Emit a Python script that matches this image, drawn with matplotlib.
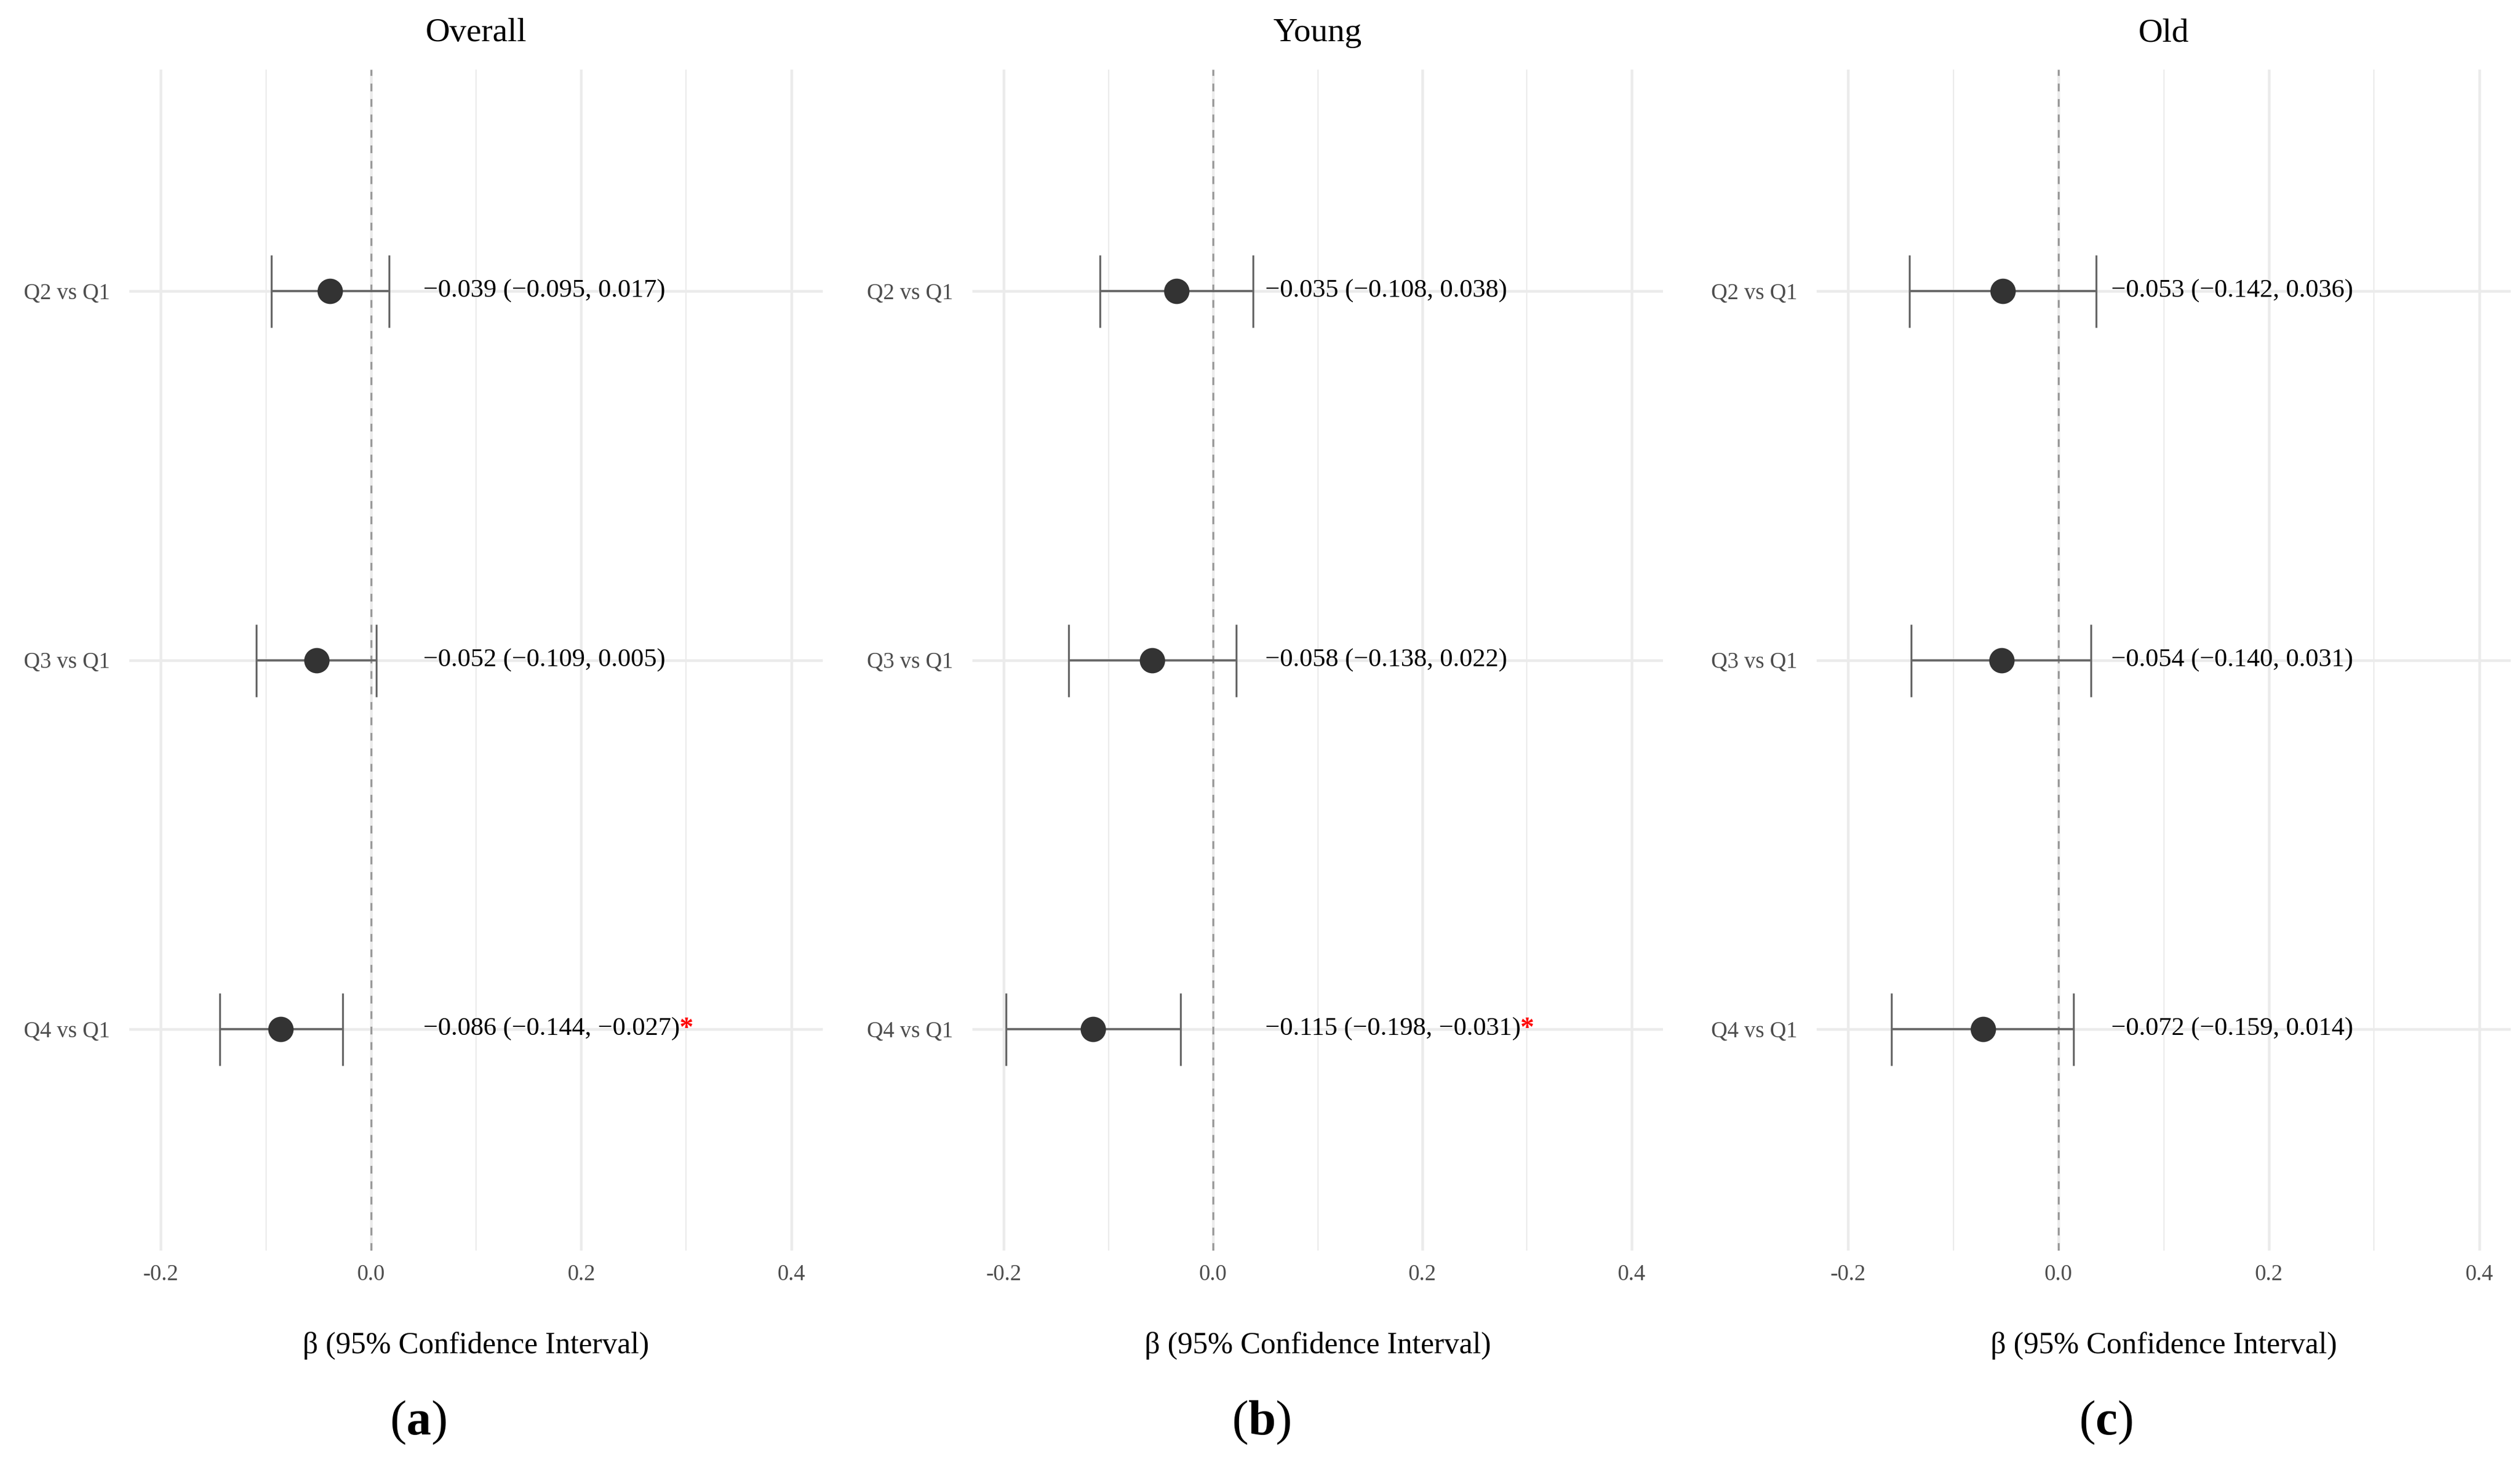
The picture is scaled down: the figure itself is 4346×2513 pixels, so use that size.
import matplotlib
matplotlib.use("Agg")
import matplotlib.pyplot as plt
import numpy as np

plt.rcParams['font.family'] = ['Liberation Serif', 'DejaVu Serif']
plt.rcParams['mathtext.fontset'] = 'custom'
plt.rcParams['mathtext.rm'] = 'Liberation Serif'
plt.rcParams['mathtext.bf'] = 'Liberation Serif:bold'

panel_titles = ["Overall", "Young", "Old"]
panel_letters = ["a", "b", "c"]
categories = ["Q2 vs Q1", "Q3 vs Q1", "Q4 vs Q1"]

overall_beta = [-0.039, -0.052, -0.086]
overall_low = [-0.095, -0.109, -0.144]
overall_high = [0.017, 0.005, -0.027]
overall_sig = [False, False, True]

young_beta = [-0.035, -0.058, -0.115]
young_low = [-0.108, -0.138, -0.198]
young_high = [0.038, 0.022, -0.031]
young_sig = [False, False, True]

old_beta = [-0.053, -0.054, -0.072]
old_low = [-0.142, -0.140, -0.159]
old_high = [0.036, 0.031, 0.014]
old_sig = [False, False, False]

x_ticks = [-0.2, 0.0, 0.2, 0.4]
x_ticklabels = ["-0.2", "0.0", "0.2", "0.4"]
x_minor = [-0.1, 0.1, 0.3]

panels = [
    (overall_beta, overall_low, overall_high, overall_sig),
    (young_beta, young_low, young_high, young_sig),
    (old_beta, old_low, old_high, old_sig),
]

W, H = 4346, 2513
dpi = 300
fig = plt.figure(figsize=(W / dpi, H / dpi), dpi=dpi)

lefts = [223, 1677, 3133]
rights = [1419, 2868, 4330]
top_px, bot_px = 120, 2157

def fmt(v):
    return f"{v:.3f}".replace("-", "\u2212")

for i, (beta, low, high, sig) in enumerate(panels):
    axw = rights[i] - lefts[i]
    axh = bot_px - top_px
    ax = fig.add_axes([lefts[i] / W, 1 - bot_px / H, axw / W, axh / H])
    ypos = np.array([3, 2, 1])
    ax.set_xlim(-0.23, 0.43)
    ax.set_ylim(0.4, 3.6)
    for s in ax.spines.values():
        s.set_visible(False)
    for xv in x_ticks:
        ax.axvline(xv, color="#EBEBEB", lw=1.1, zorder=0)
    for xv in x_minor:
        ax.axvline(xv, color="#EBEBEB", lw=0.55, zorder=0)
    for yv in ypos:
        ax.axhline(yv, color="#EBEBEB", lw=1.1, zorder=0)
    ax.axvline(0, color="#999999", lw=0.8, ls=(0, (4, 4)), zorder=1)

    b = np.array(beta)
    lo = np.array(low)
    hi = np.array(high)
    ax.errorbar(b, ypos, xerr=[b - lo, hi - b], fmt="none", ecolor="#666666",
                elinewidth=0.9, capsize=15, capthick=0.8, zorder=2)
    ax.plot(b, ypos, "o", color="#333333", markersize=10.5, zorder=3, markeredgewidth=0)

    for j in range(3):
        txt = f"{fmt(beta[j])} ({fmt(low[j])}, {fmt(high[j])})"
        ax.text(0.05, ypos[j], txt, ha="left", va="center", fontsize=10.75, color="black", zorder=4)
        if sig[j]:
            ax.text(0.3, ypos[j], "*", ha="center", va="center", fontsize=11.5,
                    fontweight="bold", color="red", zorder=4)

    ax.set_xticks(x_ticks)
    ax.set_xticklabels(x_ticklabels)
    ax.set_yticks(ypos)
    ax.set_yticklabels(categories)
    ax.tick_params(axis="both", length=0, colors="#4D4D4D", labelsize=9.3)
    ax.tick_params(axis="x", pad=5.5)
    ax.tick_params(axis="y", pad=8)

    ax.text(0.5, 1 + (top_px - 71) / axh, panel_titles[i], transform=ax.transAxes,
            ha="center", va="baseline", fontsize=14, color="black")
    ax.text(0.5, -(2334 - bot_px) / axh, "\u03b2 (95% Confidence Interval)", transform=ax.transAxes,
            ha="center", va="baseline", fontsize=12.5, color="black")
    ax.text(498 / axw, -(2454 - bot_px) / axh, "(" + r"$\mathbf{" + panel_letters[i] + "}$" + ")",
            transform=ax.transAxes, ha="center", va="center", fontsize=20.5, color="black")

fig.savefig("out.png", dpi=dpi, facecolor="white")
